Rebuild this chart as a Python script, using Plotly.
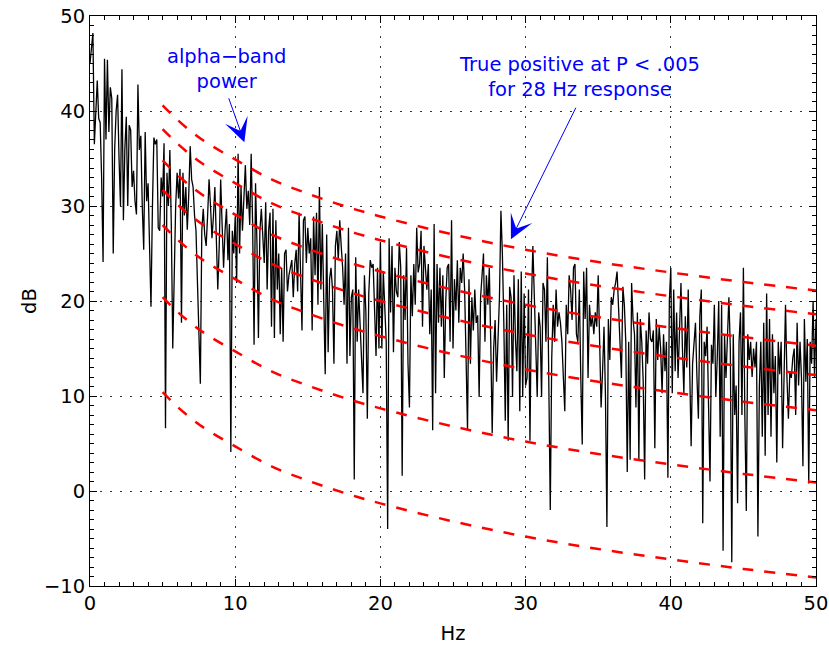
import numpy as np
import plotly.graph_objects as go

# ---------------- data ----------------
freq_step = 0.1  # Hz between spectrum samples

# spectrum power (dB), one row per Hz (10 samples each)
power_0_10 = [
    45.0, 46.9, 48.2, 36.5, 41.0, 43.2, 39.2, 38.8, 33.0, 24.1,
    45.5, 37.0, 45.4, 37.8, 42.5, 41.3, 25.0, 36.0, 40.0, 41.7,
    35.0, 30.0, 44.4, 28.5, 36.0, 39.4, 30.0, 38.5, 38.0, 32.0,
    33.7, 30.5, 29.1, 42.8, 35.9, 37.4, 30.0, 25.4, 37.8, 30.5,
    32.4, 27.0, 19.4, 30.0, 37.2, 36.5, 37.0, 27.7, 27.4, 33.0,
    31.0, 36.6, 6.6, 33.5, 30.0, 35.9, 28.0, 15.0, 24.6, 30.0,
    33.5, 30.8, 33.9, 17.7, 33.5, 29.0, 32.0, 27.5, 31.2, 36.3,
    32.8, 32.0, 29.0, 27.4, 22.0, 17.3, 11.3, 27.4, 29.7, 27.0,
    25.8, 29.0, 32.8, 30.0, 26.6, 28.9, 32.0, 26.6, 21.2, 25.8,
    32.8, 28.0, 23.5, 27.4, 29.7, 24.3, 28.1, 4.1, 27.4, 25.0,
]
power_10_20 = [
    28.9, 21.9, 35.5, 25.0, 32.0, 27.4, 30.5, 34.3, 29.7, 31.6,
    28.0, 35.5, 28.1, 15.4, 32.4, 26.0, 16.1, 27.4, 29.7, 26.6,
    24.0, 30.4, 21.2, 27.4, 29.3, 17.3, 29.7, 16.1, 28.5, 21.2,
    25.0, 16.5, 23.5, 15.7, 25.0, 25.4, 21.0, 22.7, 23.5, 24.3,
    20.4, 23.9, 25.4, 21.0, 29.3, 23.5, 16.9, 28.5, 28.9, 24.0,
    27.7, 25.0, 26.6, 16.9, 28.9, 22.7, 29.3, 19.6, 32.0, 21.2,
    28.1, 20.0, 12.3, 27.0, 14.6, 22.3, 23.5, 21.2, 13.4, 25.8,
    27.4, 24.3, 28.5, 25.8, 23.5, 19.6, 25.0, 13.4, 27.7, 14.2,
    20.4, 21.2, 1.2, 24.6, 15.7, 21.2, 18.0, 14.6, 10.3, 22.7,
    18.8, 7.6, 20.8, 24.3, 23.5, 23.9, 18.0, 14.2, 23.5, 15.0,
]
power_20_30 = [
    26.2, 15.0, 23.1, 20.0, 15.7, -4.0, 26.6, 18.8, 25.8, 14.6,
    23.5, 21.0, 20.4, 26.2, 23.5, 1.6, 22.7, 18.0, 25.6, 13.4,
    8.8, 22.7, 18.4, 23.9, 19.6, 27.7, 23.0, 23.9, 27.4, 17.3,
    25.8, 23.5, 21.2, 23.9, 16.5, 21.2, 6.4, 28.1, 10.3, 23.9,
    17.7, 23.5, 17.3, 22.7, 11.9, 20.0, 23.5, 23.9, 15.7, 28.5,
    15.0, 22.3, 19.0, 24.3, 17.7, 23.5, 21.9, 25.0, 21.2, 14.0,
    6.4, 22.3, 13.4, 20.4, 16.9, 21.2, 17.7, 18.5, 9.9, 20.4,
    23.5, 25.0, 15.7, 22.7, 19.6, 23.5, 15.7, 6.1, 15.0, 18.0,
    11.5, 16.5, 20.4, 29.5, 25.0, 17.7, 7.4, 19.6, 5.3, 21.5,
    20.4, 9.9, 22.7, 16.0, 12.6, 22.3, 8.4, 23.1, 9.9, 20.8,
]
power_30_40 = [
    11.1, 11.9, 21.2, 5.3, 19.6, 25.8, 21.2, 15.0, 9.9, 18.8,
    17.3, 9.9, 21.9, 21.2, 15.7, 24.6, 13.0, -2.0, 14.0, 19.6,
    15.7, 21.2, 17.3, 18.8, 17.7, 15.7, 12.0, 8.4, 19.6, 16.5,
    22.7, 21.2, 18.0, 23.5, 23.9, 16.5, 15.7, 21.2, 12.0, 4.9,
    23.1, 18.1, 23.5, 11.9, 19.6, 17.3, 18.4, 16.5, 18.8, 17.3,
    22.7, 16.5, 8.8, 12.6, 17.3, 10.0, -3.8, 18.1, 13.8, 20.4,
    19.6, 21.2, 21.9, 23.1, 18.8, 15.7, 11.9, 21.5, 19.6, 15.7,
    2.0, 15.7, 3.3, 21.9, 18.0, 16.5, 8.8, 18.8, 3.2, 18.1,
    15.7, 11.5, 1.2, 16.9, 13.4, 18.8, 16.0, 15.7, 16.9, 4.5,
    18.1, 13.8, 17.3, 15.0, 10.3, 16.5, 12.6, 15.7, 1.4, 20.0,
]
power_40_50 = [
    23.5, 10.3, 21.2, 12.6, 18.8, 11.9, 17.3, 21.9, 15.0, 10.3,
    18.4, 13.0, 21.2, 13.8, 4.7, 13.4, 15.7, 17.7, 12.0, 7.6,
    18.4, 21.2, -3.4, 15.7, 14.2, 17.3, 9.0, 1.0, 15.4, 13.4,
    19.6, 9.9, 14.0, 20.0, 5.7, 19.6, -6.3, 16.5, 11.9, 17.0,
    20.4, 15.0, -7.5, 16.5, 8.0, 11.1, -1.3, 15.7, 18.8, 8.0,
    23.5, 8.0, -2.1, 16.5, 13.8, 15.7, 12.0, 15.0, 13.0, 15.7,
    -4.8, 11.1, 15.7, 5.7, 17.7, 3.7, 20.8, 8.0, 18.1, 5.7,
    16.5, 10.3, 14.2, 3.0, 15.7, 12.3, 15.7, 4.5, 12.6, 19.6,
    11.9, 7.6, 12.6, 11.9, 14.0, 15.0, 8.0, 17.7, 11.1, 15.7,
    11.9, 2.6, 18.1, 11.5, 16.0, 0.8, 15.7, 13.4, 20.0, 11.9,
    18.1,
]

# red dashed reference curves, read at these frequencies
curve_freqs = [5, 6, 7, 8, 10, 12.5, 15, 17.5, 20, 25, 30, 35, 40, 45, 50]
curve_1 = [40.6, 39.1, 37.8, 36.7, 34.9, 32.8, 31.3, 30.0, 28.9, 27.0, 25.4, 24.1, 23.0, 22.0, 21.1]
curve_2 = [38.1, 36.6, 35.3, 34.2, 32.4, 30.3, 28.8, 27.5, 26.4, 24.5, 22.9, 21.6, 20.5, 19.5, 18.6]
curve_3 = [34.8, 33.3, 32.0, 30.9, 29.1, 27.0, 25.5, 24.2, 23.1, 21.2, 19.6, 18.3, 17.2, 16.2, 15.3]
curve_4 = [31.7, 30.2, 28.9, 27.8, 26.0, 23.9, 22.4, 21.1, 20.0, 18.1, 16.5, 15.2, 14.1, 13.1, 12.2]
curve_5 = [28.0, 26.5, 25.2, 24.1, 22.3, 20.2, 18.7, 17.4, 16.3, 14.4, 12.8, 11.5, 10.4, 9.4, 8.5]
curve_6 = [20.4, 18.9, 17.6, 16.5, 14.7, 12.6, 11.1, 9.8, 8.7, 6.8, 5.2, 3.9, 2.8, 1.8, 0.9]
curve_7 = [10.4, 8.9, 7.6, 6.5, 4.7, 2.6, 1.1, -0.2, -1.3, -3.2, -4.8, -6.1, -7.2, -8.2, -9.1]

x_ticks = [0, 10, 20, 30, 40, 50]
y_ticks = [-10, 0, 10, 20, 30, 40, 50]

# annotation anchor points (Hz, dB)
alpha_text = "alpha−band<br>power"
alpha_text_pos = (9.37, 44.4)
alpha_arrow_tail = (9.52, 41.5)
alpha_arrow_tip = (10.63, 36.7)
tp_text = "True positive at P &lt; .005<br>for 28 Hz response"
tp_text_pos = (33.71, 43.6)
tp_arrow_tail = (33.51, 40.5)
tp_arrow_tip = (28.99, 26.5)

# ---------------- figure ----------------
power_db = power_0_10 + power_10_20 + power_20_30 + power_30_40 + power_40_50
freqs = np.round(np.arange(len(power_db)) * freq_step, 1)

FONT = "DejaVu Sans"
FS = 19.5

fig = go.Figure()
fig.add_trace(go.Scatter(x=freqs, y=power_db, mode="lines",
                         line=dict(color="black", width=1.3), showlegend=False))
for c in [curve_1, curve_2, curve_3, curve_4, curve_5, curve_6, curve_7]:
    fig.add_trace(go.Scatter(x=curve_freqs, y=c, mode="lines", showlegend=False,
                             line=dict(color="#ff0000", width=2.5, dash="11px,11px",
                                       shape="spline")))

axis_common = dict(
    showline=True, linecolor="black", linewidth=1, mirror="allticks",
    ticks="inside", ticklen=7, tickcolor="black", tickwidth=1,
    showgrid=True, gridcolor="#333333", gridwidth=1, griddash="2px,8px",
    zeroline=False, automargin=False,
    tickfont=dict(family=FONT, size=FS, color="black"),
    minor=dict(ticks="inside", ticklen=4, tickcolor="black", dtick=1, showgrid=False),
)

fig.update_layout(
    width=829, height=646,
    margin=dict(l=90, r=13, t=16, b=60),
    paper_bgcolor="white", plot_bgcolor="white",
    xaxis=dict(range=[0, 50], tickvals=x_ticks,
               title=dict(text="Hz", font=dict(family=FONT, size=FS, color="black"), standoff=11),
               **axis_common),
    yaxis=dict(range=[-10, 50], tickvals=y_ticks,
               title=dict(text="dB", font=dict(family=FONT, size=FS, color="black"), standoff=2),
               **axis_common),
)

for tail, tip in [(alpha_arrow_tail, alpha_arrow_tip), (tp_arrow_tail, tp_arrow_tip)]:
    fig.add_annotation(x=tip[0], y=tip[1], ax=tail[0], ay=tail[1],
                       xref="x", yref="y", axref="x", ayref="y",
                       text="", showarrow=True, arrowhead=3, arrowsize=4,
                       arrowwidth=1, arrowcolor="#0000ff", standoff=0)

for txt, pos in [(alpha_text, alpha_text_pos), (tp_text, tp_text_pos)]:
    fig.add_annotation(x=pos[0], y=pos[1], xref="x", yref="y", text=txt,
                       showarrow=False, xanchor="center", yanchor="middle",
                       font=dict(family=FONT, size=FS, color="#0000ff"))

fig.write_html("out.html")
